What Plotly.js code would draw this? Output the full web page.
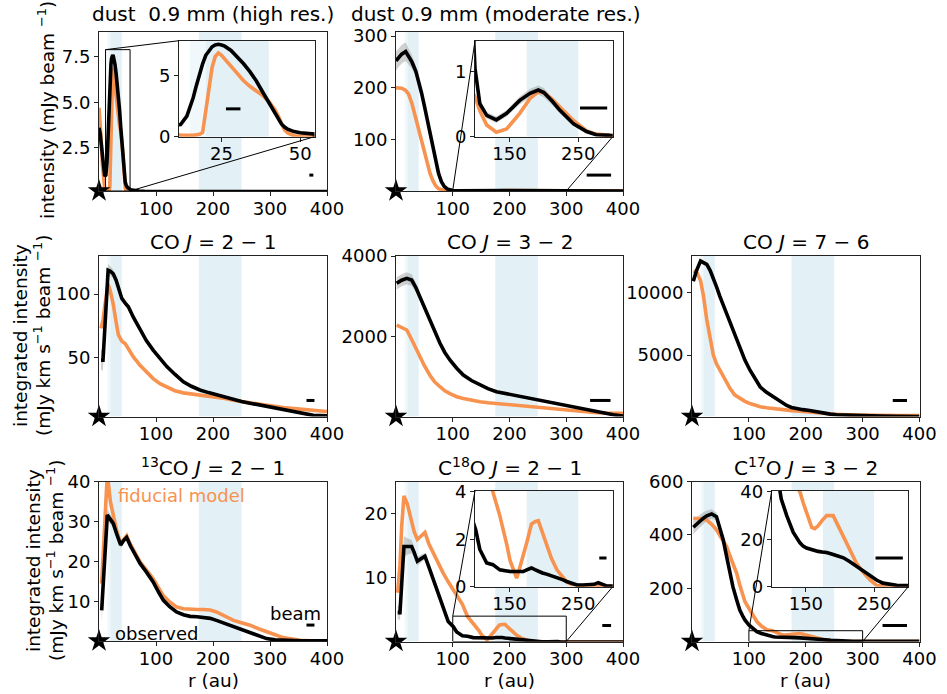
<!DOCTYPE html>
<html><head><meta charset="utf-8">
<script src="https://cdn.plot.ly/plotly-3.0.1.min.js"></script>
<style>html,body{margin:0;padding:0;background:#fff}#chart{width:947px;height:694px}</style>
</head><body><div id="chart"></div>
<script>
// ---------------- DATA (radius in au) ----------------
// dust 0.9 mm (high res.)
const r1 = [0,2,4,6,8,10,12,14,16,17,18,19,20,21,22,23,24,25,26,28,30,32,34,36,38,40,42,43,44,45,46,48,50,55,60,70,80,100,150,200,250,300,350,400];
const obs1 = [3.6,3.3,2.7,2.0,1.35,0.95,1.0,1.7,3.2,4.2,5.2,6.0,6.7,7.1,7.4,7.55,7.6,7.55,7.45,7.1,6.6,6.0,5.35,4.6,3.7,2.8,1.9,1.4,1.05,0.8,0.62,0.42,0.32,0.2,0.16,0.13,0.12,0.11,0.1,0.1,0.1,0.1,0.1,0.1];
const mod1 = [4.7,4.0,2.9,1.6,0.7,0.25,0.12,0.1,0.12,0.15,0.2,0.35,2.0,4.0,5.7,6.6,6.9,6.7,6.4,5.7,5.1,4.6,4.15,3.75,3.4,2.9,2.2,1.7,1.1,0.55,0.3,0.08,0.04,0.02,0.02,0.02,0.02,0.02,0.02,0.02,0.02,0.02,0.02,0.02];
// dust 0.9 mm (moderate res.)
const r2 = [0,5,10,17,22,28,35,40,45,50,55,60,65,70,75,80,85,90,95,100,107,117,131,146,165,180,192,200,212,223,233,243,262,276,296,320,360,400];
const obs2 = [252,258,265,270,262,250,232,212,190,165,138,108,80,55,34,18,9,4,2.2,1.05,0.51,0.33,0.26,0.36,0.56,0.67,0.72,0.68,0.55,0.41,0.3,0.2,0.08,0.03,0.02,0.01,0.01,0.01];
const err2 = [18,18,18,18,16,13,10,8,7,6,5,4,3,2,1.5,1,0.8,0.5,0.3,0.08,0.06,0.05,0.05,0.05,0.06,0.07,0.07,0.07,0.06,0.05,0.04,0.03,0.02,0.01,0.01,0.01,0.01,0.01];
const mod2 = [200,200,199,195,188,170,140,118,95,72,52,34,20,10,4.5,2,1,0.8,0.7,0.62,0.4,0.18,0.07,0.12,0.36,0.59,0.69,0.68,0.58,0.46,0.36,0.25,0.09,0.04,0.02,0.01,0.01,0.01];
// CO J=2-1
const r3 = [3.5,7,10,16,20,25,30,34,40,46,51.5,60,72,83,95,107,119,133,148,162,177,192,206,221,236,250,265,280,294,309,323,338,353,365,376,388,400];
const obs3 = [48,48,71,118.8,118,116,111,105.7,96.6,93,90,82,71.7,63.5,56,49,43,37,31,27.5,24.6,22.5,20.7,18.7,16.8,15.5,14.2,12.9,11.6,10.5,9.5,8,6.4,5.3,4.6,4.4,4.3];
const err3 = [8,8,6,5,4,3,2.5,2,2,1.5,1.5,1.2,1,1,0.8,0.8,0.7,0.6,0.6,0.5,0.5,0.5,0.4,0.4,0.4,0.4,0.4,0.4,0.3,0.3,0.3,0.3,0.3,0.3,0.3,0.3,0.3];
const mod3 = [73,79.6,90,108,102,92,78,68,63,61,57,50.8,44,38.5,33.5,29.5,27,24,22.3,21.5,20.5,19.6,19,17.8,16.5,15.3,14.4,13.5,12.5,11.6,10.8,10.1,9.5,9,8.6,8.1,7.6];
// CO J=3-2
const r4 = [1.2,10,19,27.6,35,42,50,60,68,77.5,86,95,107,118.6,133,148,162,177,192,207,221,236,250,265,280,295,310,324,339,354,368,383,400];
const obs4 = [3323,3400,3447,3405,3220,2991,2730,2414,2130,1836,1610,1423,1220,1051,915,803,715,637,595,555,515,473,432,390,350,307,266,225,184,142,105,65,35];
const err4 = [150,150,150,140,120,100,90,80,70,60,50,45,40,35,30,25,22,20,18,16,15,14,13,12,11,10,9,8,7,6,5,5,5];
const mod4 = [2290,2240,2166,1930,1710,1500,1280,1040,880,761,660,590,514,470,425,390,365,345,332,310,290,266,245,225,204,183,165,150,135,117,108,102,100];
// CO J=7-6
const r5 = [2.3,8,15,20,26,32,37.5,43,49,58,67,75,84,93,102,111,120,131,143,155,166.5,175,184,195,207,219,231,243,254,272,290,310,331,360,400];
const obs5 = [10940,11800,12560,12450,12290,11800,11215,10500,9725,8650,7570,6600,5540,4600,3785,3050,2430,2000,1620,1270,950,790,680,610,545,430,325,250,195,160,140,110,90,70,60];
const err5 = [200,200,200,180,160,150,140,130,120,100,90,80,70,60,50,45,40,35,30,25,20,20,20,18,16,14,12,10,10,8,8,6,6,5,5];
const mod5 = [11750,11680,11000,9800,7836,6300,5000,4300,3785,2950,2300,1800,1500,1280,1100,960,850,760,680,610,560,530,500,470,430,390,320,260,220,195,170,150,140,140,140];
// 13CO J=2-1
const r6 = [4.7,10,14.6,20,25,31,38,43,48.5,55,63,72,83,95,104,113,124,136,148,160,172,183,195,206,221,236,250,265,280,294,309,323,338,353,370,400];
const obs6 = [7.9,22,31.7,30.6,29.6,27,24.2,25.3,26.1,24,21.8,19.6,17.5,15,12.6,10.4,8.8,7.5,6.8,6.4,6.3,6.2,5.9,5.4,4.6,3.75,3.0,2.25,1.5,0.85,0.55,0.4,0.35,0.3,0.3,0.3];
const err6 = [3,2,1.5,1.2,1,0.8,0.8,0.7,0.7,0.6,0.5,0.5,0.4,0.4,0.3,0.3,0.3,0.3,0.2,0.2,0.2,0.2,0.2,0.2,0.2,0.2,0.2,0.2,0.1,0.1,0.1,0.1,0.1,0.1,0.1,0.1];
const mod6 = [14.6,28,42,35,31.2,27.8,24.5,25.5,26.5,24.4,22.2,20,18,15.8,13.6,11.5,10,8.75,8.3,8.1,8.1,8.1,8.0,7.5,6.5,5.4,4.8,4.2,3.3,2.5,1.8,1.1,0.7,0.4,0.3,0.3];
// C18O J=2-1
const r7 = [3,7,10,14,20,27.6,32,37.6,44,51,58,66,74,83,92,101,107,117,126,136,141,146,151,156,160.5,165,170,176,182,187,192,198,204,211,219,228,233,240,248,257,267,273,279,285,291,300,320,350,400];
const obs7 = [4.6,4.6,9,14.9,14.9,14.9,14,12.6,13,13.4,11.7,9.7,7.4,5.1,3.2,2.4,1.57,1.0,0.93,0.71,0.68,0.65,0.64,0.64,0.64,0.64,0.64,0.72,0.79,0.72,0.64,0.58,0.53,0.47,0.38,0.29,0.22,0.15,0.07,0.07,0.07,0.1,0.17,0.1,0.03,0.03,0.03,0.03,0.03];
const err7 = [1,1.2,1.5,1.6,1.3,1,0.8,0.7,0.6,0.5,0.5,0.4,0.3,0.3,0.2,0.15,0.1,0.08,0.08,0.08,0.08,0.08,0.08,0.08,0.08,0.08,0.08,0.08,0.08,0.08,0.08,0.08,0.08,0.08,0.08,0.08,0.08,0.08,0.06,0.06,0.06,0.06,0.06,0.06,0.05,0.05,0.05,0.05,0.05];
const mod7 = [7.7,12,18,22.8,21.5,18.6,17.2,16,16.6,17.1,15.3,13.8,12.4,10.8,9.4,8.1,7.2,5.9,4.0,3.0,2.43,1.8,1.1,0.65,0.36,0.8,1.29,1.95,2.64,2.74,2.78,2.25,1.71,1.2,0.71,0.35,0.21,0.1,0.05,0.03,0.02,0.02,0.02,0.02,0.02,0.02,0.02,0.02,0.02];
// C17O J=3-2
const r8 = [2.3,10,20,26,34.6,43,49,55,61,67,72,78.6,84,90,93,100,108,114,122,131.6,141.4,146,151,158.6,163,168,174,180.5,190,197,205,214,224,234,244,254,263,273,283,300,330,360,400];
const obs8 = [429,445,463,472,479,469,430,381,318,256,205,156,118,92,81,62,48,37,30,22.9,18.5,17.1,16.3,15.6,15.2,14.9,14.6,14.4,13.6,12.9,12.2,10.6,8.6,6.4,4.3,2.7,1.5,0.9,0.6,0.5,0.4,0.4,0.4];
const err8 = [25,25,22,20,18,15,12,10,8,7,6,5,4,3,3,2,2,1.5,1.2,1,1,0.8,0.8,0.8,0.8,0.8,0.8,0.8,0.8,0.8,0.7,0.6,0.5,0.4,0.3,0.3,0.2,0.2,0.2,0.2,0.2,0.2,0.2];
const mod8 = [463,463,460,456,440,419,398,378,356,320,290,256,212,169,150,125,94,75,58,44,40,35.5,31.4,25,24.5,25.7,28,30,30,26,21.4,15.5,10,6,2.9,0.5,0.3,0.2,0.2,0.2,0.2,0.2,0.2];
// shaded radial regions (au)
const bandInner = [15,20];
const bandRing = [20,40];
const bandOuter = [175,250];
// beam sizes drawn as bars (au)
const beam1 = [369,376], beam1i = [26.4,31];
const beam2 = [336,379], beam2i = [252.5,292];
const beam3 = [364,378];
const beam4 = [342,378];
const beam5 = [353,378];
const beam6 = [364,378];
const beam7 = [363.5,379], beam7i = [280.5,291];
const beam8 = [335,378], beam8i = [252,292];
// tick labels
const xTicksMain = [100,200,300,400];

// ---------------- LAYOUT ----------------
const W = 947, H = 694;
const FONT = 'DejaVu Sans, Arial, sans-serif';
const ORANGE = '#f7924f';
const BAND_D = '#e3f1f6', BAND_L = '#f1f8fb';
const layout = {width:W, height:H, margin:{l:0,r:0,t:0,b:0}, paper_bgcolor:'#fff', plot_bgcolor:'#fff',
  showlegend:false, font:{family:FONT, size:18, color:'#000'}, shapes:[], annotations:[]};
const traces = [];
const axN = (n,c) => c+'axis'+(n===1?'':n);
const axI = (n,c) => c+(n===1?'':n);

const panels = [
  {n:1, box:[99,327,32,191], xr:[0,400], yr:[0.13,8.87], yt:[2.5,5,7.5], ytt:['2.5','5.0','7.5'], r:r1,o:obs1,e:null,m:mod1, beam:beam1, bf:0.1, bands:[[bandInner,BAND_L],[bandRing,BAND_D],[bandOuter,BAND_D]], star:true},
  {n:2, box:[396,623,32,191], xr:[0,400], yr:[0,308], yt:[100,200,300], r:r2,o:obs2,e:err2,m:mod2, beam:beam2, bf:0.1, bands:[[bandInner,BAND_L],[bandRing,BAND_D],[bandOuter,BAND_D]], star:true},
  {n:3, box:[99,327,256,416.5], xr:[0,400], yr:[3.7,130], yt:[50,100], r:r3,o:obs3,e:err3,m:mod3, beam:beam3, bf:0.1, bands:[[bandInner,BAND_L],[bandRing,BAND_D],[bandOuter,BAND_D]], star:true},
  {n:4, box:[396,623,256,416.5], xr:[0,400], yr:[23,4000], yt:[2000,4000], r:r4,o:obs4,e:err4,m:mod4, beam:beam4, bf:0.1, bands:[[bandInner,BAND_L],[bandRing,BAND_D],[bandOuter,BAND_D]], star:true},
  {n:5, box:[692,919.5,256,416.5], xr:[0,400], yr:[60,12970], yt:[5000,10000], r:r5,o:obs5,e:err5,m:mod5, beam:beam5, bf:0.1, bands:[[bandInner,BAND_L],[bandRing,BAND_D],[bandOuter,BAND_D]], star:true},
  {n:6, box:[99,327,481.7,641], xr:[0,400], yr:[0.25,40], yt:[10,20,30,40], r:r6,o:obs6,e:err6,m:mod6, beam:beam6, bf:0.1, bands:[[bandInner,BAND_L],[bandRing,BAND_D],[bandOuter,BAND_D]], star:true},
  {n:7, box:[396,623,481.7,641.5], xr:[0,400], yr:[0.1,25], yt:[10,20], r:r7,o:obs7,e:err7,m:mod7, beam:beam7, bf:0.1, bands:[[bandInner,BAND_L],[bandRing,BAND_D],[bandOuter,BAND_D]], star:true},
  {n:8, box:[692,919.5,481.7,641.5], xr:[0,400], yr:[0,600], yt:[200,400,600], r:r8,o:obs8,e:err8,m:mod8, beam:beam8, bf:0.1, bands:[[bandInner,BAND_L],[bandRing,BAND_D],[bandOuter,BAND_D]], star:true},
  // insets
  {n:9, parent:1, box:[179,314.5,40.7,136.7], xr:[11.5,54.5], yr:[0,7.9], xt:[25,50], yt:[0,5], r:r1,o:obs1,e:null,m:mod1, beam:beam1i, bf:0.29, bands:[[bandInner,BAND_L],[bandRing,BAND_D]]},
  {n:10, parent:2, box:[475,612.7,40.7,136.7], xr:[100,300], yr:[0,1.48], xt:[150,250], yt:[0,1], r:r2,o:obs2,e:err2,m:mod2, beam:beam2i, bf:0.3, bands:[[bandOuter,BAND_D]]},
  {n:11, parent:7, box:[475,612.7,490.7,586.7], xr:[100,300], yr:[0,4.05], xt:[150,250], yt:[0,2,4], r:r7,o:obs7,e:err7,m:mod7, beam:beam7i, bf:0.3, bands:[[bandOuter,BAND_D]]},
  {n:12, parent:8, box:[771.7,908.3,490.7,586.7], xr:[100,300], yr:[0,40.5], xt:[150,250], yt:[0,20,40], r:r8,o:obs8,e:err8,m:mod8, beam:beam8i, bf:0.3, bands:[[bandOuter,BAND_D]]},
];
const byN = {}; panels.forEach(p => byN[p.n] = p);

function toPaper(p, x, y){
  const bx = p.box[0] + (x-p.xr[0])/(p.xr[1]-p.xr[0])*(p.box[1]-p.box[0]);
  const by = p.box[3] - (y-p.yr[0])/(p.yr[1]-p.yr[0])*(p.box[3]-p.box[2]);
  return [bx/W, 1-by/H];
}

panels.forEach(p => {
  const xa = axI(p.n,'x'), ya = axI(p.n,'y');
  const common = {showline:true, mirror:true, linecolor:'#222', linewidth:1, ticks:'outside', ticklen:4, tickwidth:1,
    tickcolor:'#222', showgrid:false, zeroline:false, fixedrange:true, tickfont:{size:18, family:FONT, color:'#000'}};
  const xt = p.xt || xTicksMain;
  layout[axN(p.n,'x')] = Object.assign({}, common, {domain:[p.box[0]/W, p.box[1]/W], range:p.xr, anchor:ya,
    tickmode:'array', tickvals:xt, ticktext:xt.map(String), ticklabelstandoff:-3});
  layout[axN(p.n,'y')] = Object.assign({}, common, {domain:[1-p.box[3]/H, 1-p.box[2]/H], range:p.yr, anchor:xa,
    tickmode:'array', tickvals:p.yt, ticktext:(p.ytt || p.yt.map(String))});
  // shaded bands
  p.bands.forEach(b => layout.shapes.push({type:'rect', xref:xa, yref:ya, x0:b[0][0], x1:b[0][1], y0:p.yr[0], y1:p.yr[1],
    fillcolor:b[1], line:{width:0}, layer:'below'}));
  // error band
  if (p.e) {
    const up = p.o.map((v,i)=>v+p.e[i]), lo = p.o.map((v,i)=>v-p.e[i]);
    traces.push({x:p.r, y:up, xaxis:xa, yaxis:ya, mode:'lines', line:{width:0, color:'rgba(0,0,0,0)'}, hoverinfo:'skip'});
    traces.push({x:p.r, y:lo, xaxis:xa, yaxis:ya, mode:'lines', line:{width:0, color:'rgba(0,0,0,0)'}, fill:'tonexty',
      fillcolor:'rgba(140,140,140,0.4)', hoverinfo:'skip'});
  }
  traces.push({x:p.r, y:p.m, xaxis:xa, yaxis:ya, mode:'lines', line:{color:ORANGE, width:3.6}, hoverinfo:'skip'});
  traces.push({x:p.r, y:p.o, xaxis:xa, yaxis:ya, mode:'lines', line:{color:'#000', width:3.6}, hoverinfo:'skip'});
  if (p.star) traces.push({x:[0], y:[p.yr[0]], xaxis:xa, yaxis:ya, mode:'markers', cliponaxis:false,
    marker:{symbol:'star', size:17, color:'#000', line:{width:0}}, hoverinfo:'skip'});
  // beam bar
  layout.shapes.push({type:'line', xref:xa, yref:ya+' domain', x0:p.beam[0], x1:p.beam[1], y0:p.bf, y1:p.bf,
    line:{color:'#000', width:3}, layer:'above'});
  // inset indicator box + connectors
  if (p.parent) {
    const q = byN[p.parent];
    const qx = axI(q.n,'x'), qy = axI(q.n,'y');
    layout.shapes.push({type:'rect', xref:qx, yref:qy, x0:p.xr[0], x1:p.xr[1], y0:Math.max(p.yr[0], q.yr[0]), y1:p.yr[1],
      line:{color:'#000', width:1}, fillcolor:'rgba(0,0,0,0)', layer:'above'});
    const a1 = toPaper(q, p.xr[0], p.yr[1]), b1 = [p.box[0]/W, 1-p.box[2]/H];
    const a2 = toPaper(q, p.xr[1], Math.max(p.yr[0], q.yr[0])), b2 = [p.box[1]/W, 1-p.box[3]/H];
    layout.shapes.push({type:'line', xref:'paper', yref:'paper', x0:a1[0], y0:a1[1], x1:b1[0], y1:b1[1], line:{color:'#000', width:1}});
    layout.shapes.push({type:'line', xref:'paper', yref:'paper', x0:a2[0], y0:a2[1], x1:b2[0], y1:b2[1], line:{color:'#000', width:1}});
  }
});

function ann(text, x, y, opts){
  layout.annotations.push(Object.assign({text:text, xref:'paper', yref:'paper', x:x/W, y:1-y/H, showarrow:false,
    xanchor:'center', yanchor:'middle', font:{family:FONT, size:20, color:'#000'}}, opts||{}));
}
// panel titles
ann('dust\u00a0 0.9 mm (high res.)', 213, 14);
ann('dust 0.9 mm (moderate res.)', 496, 14);
ann('CO <i>J</i> = 2 − 1', 213, 242);
ann('CO <i>J</i> = 3 − 2', 509.5, 242);
ann('CO <i>J</i> = 7 − 6', 805.5, 242);
ann('<sup>13</sup>CO <i>J</i> = 2 − 1', 213, 467);
ann('C<sup>18</sup>O <i>J</i> = 2 − 1', 509.5, 467);
ann('C<sup>17</sup>O <i>J</i> = 3 − 2', 805.5, 467);
// axis titles
const lab = {family:FONT, size:18.5, color:'#000'};
ann('intensity (mJy beam <sup>−1</sup>)', 46, 110, {textangle:-90, font:lab});
ann('integrated intensity', 20, 336, {textangle:-90, font:lab});
ann('(mJy km s<sup>−1</sup> beam <sup>−1</sup>)', 42, 336, {textangle:-90, font:lab});
ann('integrated intensity', 33, 561, {textangle:-90, font:lab});
ann('(mJy km s<sup>−1</sup> beam <sup>−1</sup>)', 55, 561, {textangle:-90, font:lab});
ann('r (au)', 213, 680, {font:lab});
ann('r (au)', 509.5, 680, {font:lab});
ann('r (au)', 805.5, 680, {font:lab});
// legend-like labels
ann('fiducial model', 181, 495, {font:{family:FONT, size:18, color:ORANGE}});
ann('observed', 156, 633, {font:{family:FONT, size:18, color:'#000'}});
ann('beam', 295, 613, {font:{family:FONT, size:18, color:'#000'}});

Plotly.newPlot('chart', traces, layout, {staticPlot:true, displayModeBar:false});
</script>
</body></html>
